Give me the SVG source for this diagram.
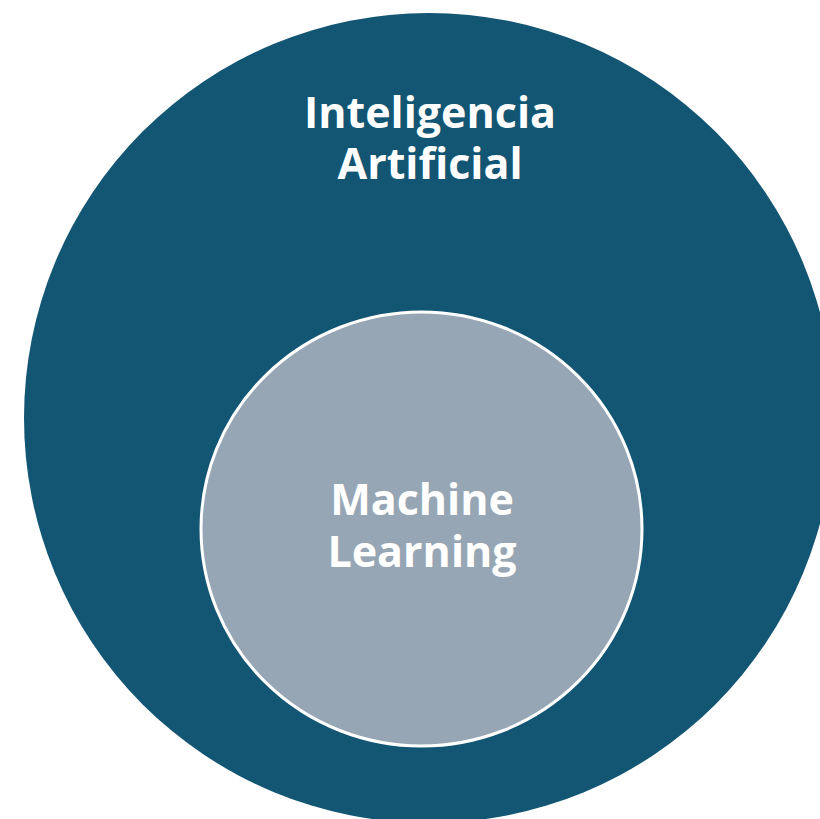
<svg xmlns="http://www.w3.org/2000/svg" width="820" height="819" viewBox="0 0 820 819">
<style>
.lbl{font-family:"Open Sans","Liberation Sans",sans-serif;font-weight:700;fill:#ffffff;text-anchor:middle;font-size:43px}
</style>
<rect width="820" height="819" fill="#ffffff"/>
<g id="ai">
<circle cx="429" cy="418" r="405" fill="#135674"/>
<text class="lbl" x="430" y="128">Inteligencia</text>
<text class="lbl" x="430" y="179">Artificial</text>
</g>
<g id="ml">
<ellipse cx="421.5" cy="529" rx="220.5" ry="217" fill="#97A6B4" stroke="#ffffff" stroke-width="3"/>
<text class="lbl" x="422" y="515">Machine</text>
<text class="lbl" x="422" y="567">Learning</text>
</g>
<g id="connectors"/>
</svg>
